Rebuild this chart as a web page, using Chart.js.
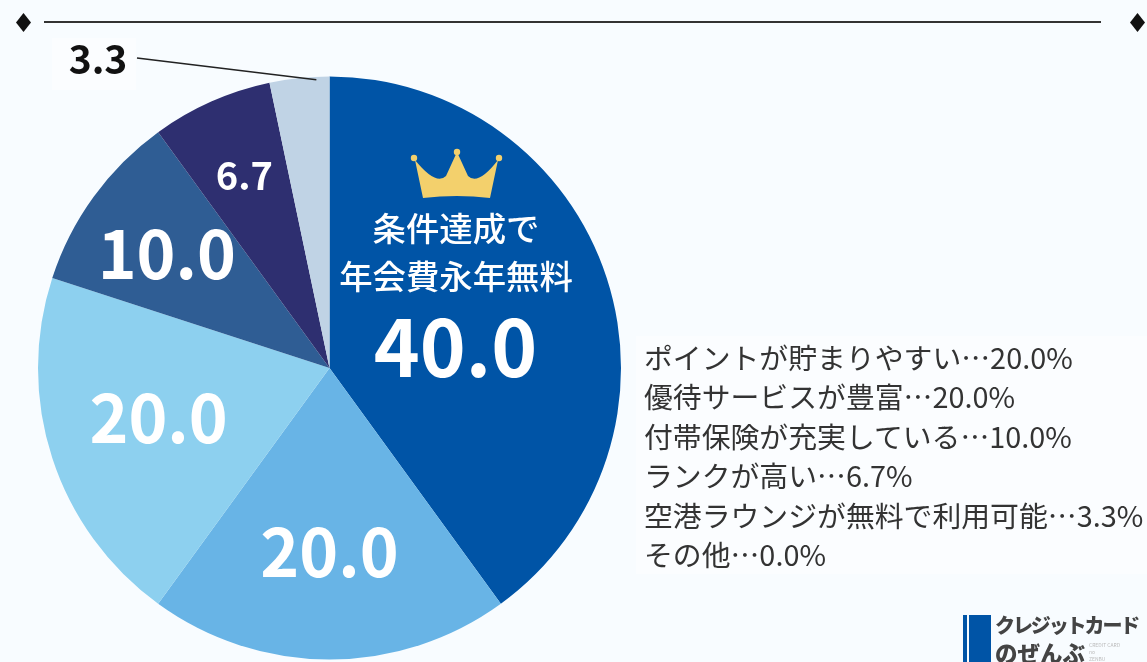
<!DOCTYPE html>
<html lang="ja">
<head>
<meta charset="utf-8">
<title>年会費</title>
<script src="https://cdn.jsdelivr.net/npm/chart.js@4/dist/chart.umd.min.js"></script>
<style>
  html, body { margin: 0; padding: 0; background: #f8fcff; overflow: hidden; }
  body { width: 1147px; height: 662px; position: relative; font-family: "Noto Sans CJK JP", "Noto Sans", sans-serif; }
  #chart { position: absolute; left: 0; top: 0; }
  .patch { position: absolute; background: #fbfdff; }
  .rule { position: absolute; left: 44px; top: 21px; width: 1057px; height: 2px; background: #333; }
  .diamond { position: absolute; top: 13px; width: 15px; height: 19px; background: #111; clip-path: polygon(50% 0, 100% 50%, 50% 100%, 0 50%); }
  #legend { position: absolute; left: 644px; top: 337px; color: #333; font-size: 28.85px; line-height: 39.4px; font-weight: 400; white-space: nowrap; }
  .logo-bar { position: absolute; top: 615px; height: 47px; }
  .logo-text { position: absolute; left: 995px; color: #444; font-weight: 900; line-height: 24px; white-space: nowrap; }
  .logo-small { position: absolute; left: 1089px; color: #bbb; font-size: 5px; line-height: 7px; white-space: pre; }
</style>
</head>
<body>
<div class="patch" style="left:636px;top:336px;width:511px;height:238px"></div>
<div class="patch" style="left:52px;top:38px;width:84px;height:52px"></div>
<canvas id="chart" width="1147" height="662"></canvas>
<div class="rule"></div>
<div class="diamond" style="left:16px"></div>
<div class="diamond" style="left:1130px"></div>
<div id="legend"></div>
<div class="logo-bar" style="left:963px;width:4px;background:#0054a6"></div>
<div class="logo-bar" style="left:969px;width:22px;background:#0054a6"></div>
<div class="logo-text" style="top:613px;font-size:20px;letter-spacing:-2.1px">クレジットカード</div>
<div class="logo-text" style="top:640px;font-size:22.5px">のぜんぶ</div>
<div class="logo-small" style="top:641px">CREDIT CARD
no
ZENBU</div>
<script>
// data
const categories = ['条件達成で年会費永年無料', 'ポイントが貯まりやすい', '優待サービスが豊富', '付帯保険が充実している', 'ランクが高い', '空港ラウンジが無料で利用可能', 'その他'];
const values = [40.0, 20.0, 20.0, 10.0, 6.7, 3.3, 0.0];
const sliceColors = ['#0054a6', '#68b4e6', '#8dd0ef', '#2f5d94', '#2e2f70', '#c0d3e5', '#999999'];
const headline = ['条件達成で', '年会費永年無料'];

// label styling per slice: distance from centre (in radii), nudge in px, font size
const labelRadius = [0.44, 0.63, 0.62, 0.69, 0.72];
const labelNudge = [[4, 19], [0, 0], [1, -6], [0, 4], [0, -1]];
const labelSize = [78, 66, 66, 66, 38];

// legend list, the top slice is named inside the pie
document.getElementById('legend').innerHTML = categories.slice(1)
    .map((c, i) => c + '…' + values[i + 1].toFixed(1) + '%')
    .join('<br>');

const FONT = '"Noto Sans CJK JP", "Noto Sans", sans-serif';

const pieLabels = {
    id: 'pieLabels',
    afterDatasetsDraw(chart) {
        const c = chart.ctx;
        const arcs = chart.getDatasetMeta(0).data;
        c.save();
        c.textAlign = 'center';
        c.textBaseline = 'middle';

        labelSize.forEach((size, i) => {
            const a = arcs[i];
            const mid = (a.startAngle + a.endAngle) / 2;
            let x = a.x + Math.cos(mid) * a.outerRadius * labelRadius[i] + labelNudge[i][0];
            let y = a.y + Math.sin(mid) * a.outerRadius * labelRadius[i] + labelNudge[i][1];
            c.fillStyle = '#fff';
            c.font = '700 ' + size + 'px ' + FONT;
            c.fillText(values[i].toFixed(1), x, y);
        });

        // small slice gets a leader line, it ends inside the slice near the top
        const small = arcs[5];
        const tipAngle = small.startAngle + (small.endAngle - small.startAngle) * 0.78;
        const tipX = small.x + Math.cos(tipAngle) * small.outerRadius * 0.99;
        const tipY = small.y + Math.sin(tipAngle) * small.outerRadius * 0.99;
        c.strokeStyle = '#222';
        c.lineWidth = 1.5;
        c.beginPath();
        c.moveTo(137, 58);
        c.lineTo(tipX, tipY);
        c.stroke();
        c.fillStyle = '#111';
        c.font = '700 39px ' + FONT;
        c.fillText(values[5].toFixed(1), 98, 59);

        // headline over the top slice
        c.fillStyle = '#fff';
        c.font = '500 33.4px ' + FONT;
        c.fillText(headline[0], 456, 228);
        c.fillText(headline[1], 456, 276);

        // crown
        c.fillStyle = '#f3d06c';
        c.beginPath();
        c.moveTo(423, 198);
        c.lineTo(415, 160);
        c.quadraticCurveTo(436, 186, 446, 176);
        c.lineTo(457, 152);
        c.lineTo(468, 176);
        c.quadraticCurveTo(478, 186, 498, 160);
        c.lineTo(490, 198);
        c.quadraticCurveTo(457, 194, 423, 198);
        c.closePath();
        c.fill();
        [[414, 158], [457, 152], [499, 158]].forEach(p => {
            c.beginPath();
            c.arc(p[0], p[1], 3.2, 0, Math.PI * 2);
            c.fill();
        });
        c.restore();
    }
};

new Chart(document.getElementById('chart'), {
    type: 'pie',
    data: {
        labels: categories,
        datasets: [{
            data: values,
            backgroundColor: sliceColors,
            borderWidth: 0
        }]
    },
    options: {
        responsive: false,
        animation: false,
        layout: { padding: { left: 38, top: 76, right: 526, bottom: 2 } },
        plugins: {
            legend: { display: false },
            tooltip: { enabled: false }
        }
    },
    plugins: [pieLabels]
});
</script>
</body>
</html>
